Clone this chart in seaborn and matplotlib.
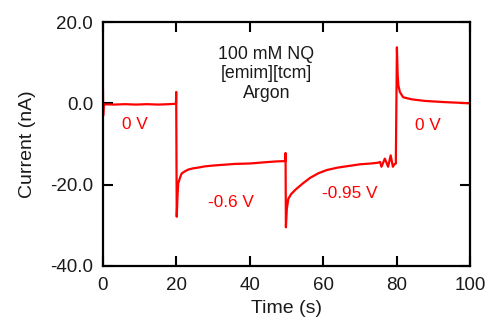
import matplotlib
matplotlib.use("Agg")
import matplotlib.pyplot as plt
import seaborn as sns
import pandas as pd

# ---- data ----
time_s = [0.0, 0.05, 0.2, 1.0, 3.0, 6.0, 9.0, 12.0, 15.0, 18.0, 19.9,
          19.95, 20.1, 20.3, 20.5, 21.0, 21.4, 22.0, 23.2, 24.5, 26.0, 27.8,
          30.0, 33.0, 36.0, 40.0, 44.0, 47.0, 49.7,
          49.75, 49.85, 50.1, 50.5, 51.3, 52.5, 54.6, 56.5, 58.7, 61.0, 64.0,
          67.0, 70.0, 73.0, 75.0, 75.5, 75.9, 76.8, 77.7, 78.4, 79.0, 79.4,
          79.8, 80.1, 80.3, 80.5, 80.9, 81.8, 84.1, 87.7, 93.2, 97.0, 100.0]
current_nA = [3.5, -3.0, -0.3, -0.25, -0.3, -0.2, -0.3, -0.2, -0.3, -0.2, -0.1,
              2.8, -27.9, -23.0, -19.7, -18.3, -17.3, -16.9, -16.3, -16.0, -15.8, -15.5,
              -15.3, -15.1, -14.9, -14.8, -14.5, -14.3, -14.2,
              -12.2, -30.5, -26.0, -23.5, -22.3, -21.2, -19.6, -18.3, -17.2, -16.4, -15.8,
              -15.4, -15.0, -14.8, -14.6, -14.4, -15.6, -13.6, -15.6, -12.8, -15.6, -15.0,
              -14.8, 13.8, 7.0, 4.4, 2.8, 1.5, 1.0, 0.6, 0.3, 0.15, 0.0]

x_ticks = [0, 20, 40, 60, 80, 100]
x_tick_labels = ["0", "20", "40", "60", "80", "100"]
y_ticks = [-40, -20, 0, 20]
y_tick_labels = ["-40.0", "-20.0", "0.0", "20.0"]

annot_texts = ["0 V", "-0.6 V", "-0.95 V", "0 V"]
annot_x = [8.7, 35.0, 67.3, 88.6]
annot_y = [-5.2, -24.5, -22.1, -5.4]

info_text = "100 mM NQ\n[emim][tcm]\nArgon"

# ---- plotting ----
sns.set_theme(style="white")
plt.rcParams["font.family"] = ["Liberation Sans", "DejaVu Sans"]

df = pd.DataFrame({"Time (s)": time_s, "Current (nA)": current_nA})

fig = plt.figure(figsize=(4.88, 3.2), dpi=100)
ax = fig.add_axes([0.211, 0.169, 0.752, 0.762])

sns.lineplot(data=df, x="Time (s)", y="Current (nA)", ax=ax, color="#ff0000",
             linewidth=1.6, sort=False, estimator=None)

ax.set_xlim(0, 100)
ax.set_ylim(-40, 20)
ax.set_xticks(x_ticks)
ax.set_xticklabels(x_tick_labels)
ax.set_yticks(y_ticks)
ax.set_yticklabels(y_tick_labels)

for sp in ax.spines.values():
    sp.set_visible(True)
    sp.set_color("black")
    sp.set_linewidth(1.6)

ax.tick_params(axis="both", which="major", direction="in", length=7.5, width=1.5,
               color="black", labelsize=13.5, labelcolor="#1a1a1a",
               top=True, right=True, bottom=True, left=True)
ax.tick_params(axis="x", pad=8)
ax.tick_params(axis="y", pad=7)

ax.set_xlabel("Time (s)", fontsize=14, color="#1a1a1a", labelpad=4)
ax.set_ylabel("Current (nA)", fontsize=14, color="#1a1a1a", labelpad=10)

for t, x, y in zip(annot_texts, annot_x, annot_y):
    ax.text(x, y, t, color="#ff0000", fontsize=12.4, ha="center", va="center")

ax.text(44.5, 7.3, info_text, color="#1a1a1a", fontsize=12.8, ha="center",
        va="center", linespacing=1.2)

fig.savefig("out.png", dpi=100)
